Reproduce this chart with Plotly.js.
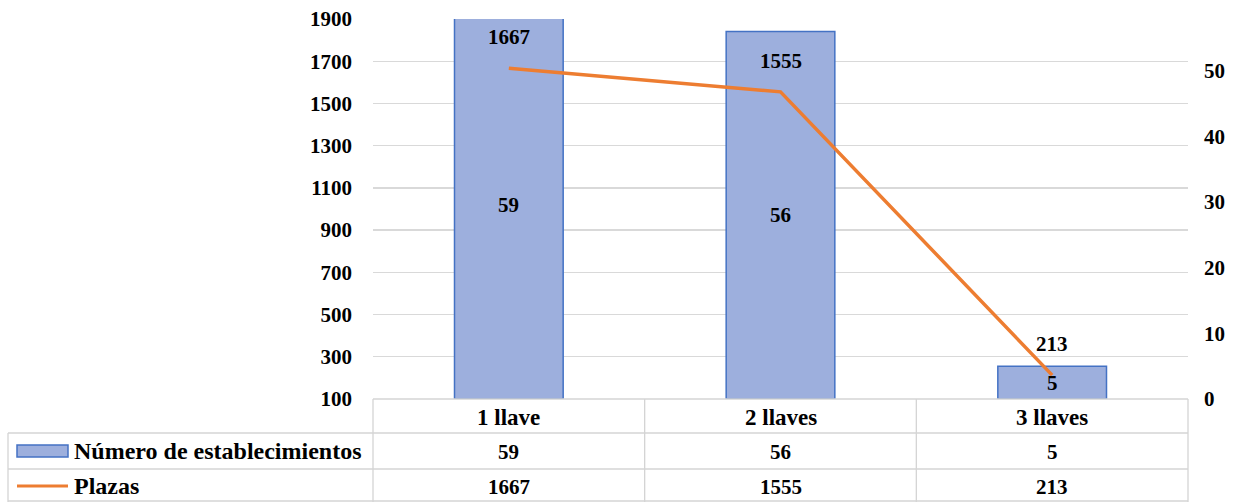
<!DOCTYPE html>
<html>
<head>
<meta charset="utf-8">
<script src="https://cdn.plot.ly/plotly-3.0.1.min.js"></script>
<style>
  html, body { margin: 0; padding: 0; background: #ffffff; }
  #chart { width: 1239px; height: 502px; }
</style>
</head>
<body>
<div id="chart"></div>
<script>
// ---- data ----
const categories = ['1 llave', '2 llaves', '3 llaves'];
const establecimientos = [59, 56, 5];
const plazas = [1667, 1555, 213];
const seriesNames = ['Número de establecimientos', 'Plazas'];
const leftTicks = [100, 300, 500, 700, 900, 1100, 1300, 1500, 1700, 1900];
const rightTicks = [0, 10, 20, 30, 40, 50];

// ---- styles ----
const FONT = 'Liberation Serif';
const barFill = '#9DAFDD';
const barLine = '#4472C4';
const lineColor = '#ED7D31';
const gridColor = '#D9D9D9';
const tableColor = '#D4D4D4';

// plot area in pixels: x 373..1188, y 19..399
const W = 1239, H = 502;
const PL = 373, PR = 1188, PT = 19, PB = 399;
const px = X => (X - PL) / (PR - PL);
const py = Y => (PB - Y) / (PB - PT);

const traces = [
  {
    type: 'bar',
    name: seriesNames[0],
    x: categories,
    y: establecimientos,
    yaxis: 'y',
    width: 0.4,
    marker: { color: barFill, line: { color: barLine, width: 1.5 } },
    hoverinfo: 'x+y'
  },
  {
    type: 'scatter',
    mode: 'lines',
    name: seriesNames[1],
    x: categories,
    y: plazas,
    yaxis: 'y2',
    line: { color: lineColor, width: 3.5 },
    hoverinfo: 'x+y'
  }
];

const annotations = [];
const txt = (size) => ({ family: FONT, size: size, color: '#000000', weight: 'bold' });

// data labels: line labels above points, bar labels centered in bars
categories.forEach((c, i) => {
  annotations.push({
    x: c, y: plazas[i], xref: 'x', yref: 'y2', yshift: 31,
    text: String(plazas[i]), showarrow: false, font: txt(21)
  });
  annotations.push({
    x: c, y: establecimientos[i] / 2, xref: 'x', yref: 'y',
    text: String(establecimientos[i]), showarrow: false, font: txt(21)
  });
  // data table
  annotations.push({
    x: c, y: py(417), xref: 'x', yref: 'paper', yanchor: 'middle',
    text: c, showarrow: false, font: txt(23)
  });
  annotations.push({
    x: c, y: py(452), xref: 'x', yref: 'paper', yanchor: 'middle',
    text: String(establecimientos[i]), showarrow: false, font: txt(21)
  });
  annotations.push({
    x: c, y: py(487), xref: 'x', yref: 'paper', yanchor: 'middle',
    text: String(plazas[i]), showarrow: false, font: txt(21)
  });
});
annotations.push({
  x: px(72), y: py(451), xref: 'paper', yref: 'paper', xanchor: 'left', yanchor: 'middle',
  text: seriesNames[0], showarrow: false, font: txt(24)
});
annotations.push({
  x: px(72), y: py(486), xref: 'paper', yref: 'paper', xanchor: 'left', yanchor: 'middle',
  text: seriesNames[1], showarrow: false, font: txt(24)
});

const tl = { color: tableColor, width: 1.3 };
const shapes = [
  // table horizontal lines
  { type: 'line', xref: 'paper', yref: 'paper', x0: 0, x1: 1, y0: 0, y1: 0, line: tl, layer: 'above' },
  { type: 'line', xref: 'paper', yref: 'paper', x0: px(8), x1: 1, y0: py(433), y1: py(433), line: tl },
  { type: 'line', xref: 'paper', yref: 'paper', x0: px(8), x1: 1, y0: py(469), y1: py(469), line: tl },
  { type: 'line', xref: 'paper', yref: 'paper', x0: px(8), x1: 1, y0: py(501), y1: py(501), line: tl },
  // table vertical lines
  { type: 'line', xref: 'paper', yref: 'paper', x0: px(8), x1: px(8), y0: py(433), y1: py(502), line: tl },
  { type: 'line', xref: 'paper', yref: 'paper', x0: 0, x1: 0, y0: 0, y1: py(502), line: tl },
  { type: 'line', xref: 'x', yref: 'paper', x0: 0.5, x1: 0.5, y0: 0, y1: py(502), line: tl },
  { type: 'line', xref: 'x', yref: 'paper', x0: 1.5, x1: 1.5, y0: 0, y1: py(502), line: tl },
  { type: 'line', xref: 'paper', yref: 'paper', x0: 1, x1: 1, y0: 0, y1: py(502), line: tl },
  // legend keys
  { type: 'rect', xref: 'paper', yref: 'paper', x0: px(17), x1: px(68), y0: py(457), y1: py(445),
    fillcolor: barFill, line: { color: barLine, width: 1.5 } },
  { type: 'line', xref: 'paper', yref: 'paper', x0: px(17), x1: px(68), y0: py(486), y1: py(486),
    line: { color: lineColor, width: 3 } }
];

const layout = {
  width: W, height: H,
  margin: { l: PL, r: W - PR, t: PT, b: H - PB, pad: 0 },
  paper_bgcolor: '#ffffff',
  plot_bgcolor: 'rgba(0,0,0,0)',
  font: { family: FONT, size: 21, color: '#000000', weight: 'bold' },
  showlegend: false,
  xaxis: {
    type: 'category',
    range: [-0.5, 2.5],
    showticklabels: false,
    showgrid: false,
    zeroline: false,
    showline: false,
    ticks: '',
    fixedrange: true
  },
  yaxis: {
    range: [0, 57.9],
    side: 'right',
    tickvals: rightTicks,
    ticktext: rightTicks.map(String),
    showgrid: false,
    zeroline: false,
    showline: false,
    ticks: '',
    ticklabelstandoff: 15,
    tickfont: { family: FONT, size: 21, color: '#000000', weight: 'bold' },
    fixedrange: true
  },
  yaxis2: {
    range: [100, 1900],
    side: 'left',
    overlaying: 'y',
    tickvals: leftTicks,
    ticktext: leftTicks.map(String),
    showgrid: true,
    gridcolor: gridColor,
    gridwidth: 1.3,
    zeroline: false,
    showline: false,
    ticks: '',
    ticklabelstandoff: 20,
    tickfont: { family: FONT, size: 21, color: '#000000', weight: 'bold' },
    fixedrange: true
  },
  annotations: annotations,
  shapes: shapes
};

Plotly.newPlot('chart', traces, layout, { displayModeBar: false, staticPlot: true });
</script>
</body>
</html>
